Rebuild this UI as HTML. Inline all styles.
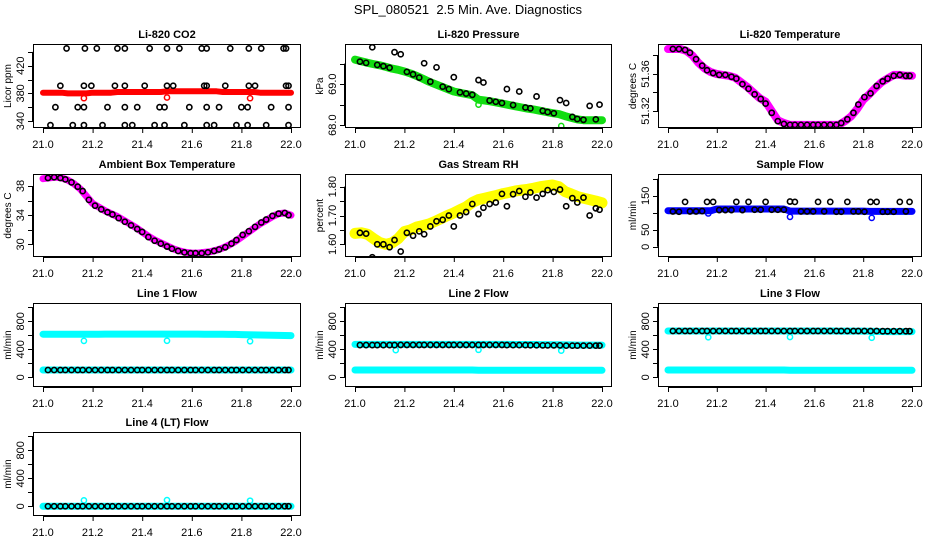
<!DOCTYPE html>
<html><head><meta charset="utf-8"><style>
html,body{margin:0;padding:0;background:#fff;}
svg{display:block;font-family:"Liberation Sans",Arial,sans-serif;}
</style></head><body>
<svg id="chart" width="936" height="540" viewBox="0 0 936 540" xmlns="http://www.w3.org/2000/svg">
<rect width="936" height="540" fill="#fff"/>
<text x="468" y="14" text-anchor="middle" font-size="13">SPL_080521&#160; 2.5 Min. Ave. Diagnostics</text>
</svg>
<script>
// ---------- shared data ----------
const bandHours = [21.000,21.025,21.050,21.075,21.100,21.125,21.150,21.175,21.200,21.225,21.250,21.275,21.300,21.325,21.350,21.375,21.400,21.425,21.450,21.475,21.500,21.525,21.550,21.575,21.600,21.625,21.650,21.675,21.700,21.725,21.750,21.775,21.800,21.825,21.850,21.875,21.900,21.925,21.950,21.975,22.000];
const blackHours = [21.02,21.045,21.07,21.09,21.115,21.14,21.16,21.185,21.21,21.235,21.26,21.28,21.305,21.33,21.355,21.38,21.40,21.425,21.45,21.475,21.50,21.52,21.545,21.57,21.595,21.615,21.64,21.665,21.69,21.71,21.735,21.76,21.78,21.805,21.83,21.855,21.88,21.90,21.925,21.95,21.975,21.99];
const outlierHours = [21.165,21.50,21.835];
const xTicks = [21.0,21.2,21.4,21.6,21.8,22.0];
const xTickLabels = ["21.0","21.2","21.4","21.6","21.8","22.0"];

// Li-820 CO2
const co2Band = [381,381,381,381,380,380,380,380,381,381,381,381,382,382,382,382,382,382,382,382,383,383,383,383,383,383,383,383,383,382,382,382,382,382,382,381,381,381,381,381,381];
const co2Outliers = [373,374,373];
const co2BlackX = [21.095,21.169,21.217,21.30,21.33,21.43,21.50,21.55,21.64,21.66,21.755,21.83,21.88,21.97,21.98,
 21.07,21.165,21.195,21.29,21.33,21.41,21.50,21.525,21.65,21.66,21.735,21.83,21.855,21.98,21.99,
 21.05,21.14,21.165,21.26,21.33,21.38,21.47,21.49,21.59,21.66,21.71,21.80,21.825,21.92,21.99,
 21.03,21.12,21.165,21.24,21.33,21.36,21.45,21.49,21.57,21.66,21.69,21.78,21.825,21.90,21.99];
const co2BlackY = [445,445,445,445,445,445,445,445,445,445,445,445,445,445,445,
 391,391,391,391,391,391,391,391,391,391,391,391,391,391,391,
 360,360,360,360,360,360,360,360,360,360,360,360,360,360,360,
 334,334,334,334,334,334,334,334,334,334,334,334,334,334,334];

// Li-820 Pressure
const presBand = [69.60,69.56,69.52,69.49,69.46,69.42,69.38,69.35,69.31,69.26,69.20,69.13,69.06,69.00,68.94,68.88,68.82,68.79,68.76,68.73,68.62,68.60,68.58,68.55,68.52,68.49,68.46,68.43,68.40,68.38,68.35,68.32,68.29,68.27,68.22,68.18,68.14,68.12,68.12,68.12,68.12];
const presOutliers = [69.35,68.50,67.98];
const presBlack = [69.55,69.52,69.90,69.47,69.44,69.40,69.78,69.73,69.30,69.24,69.16,69.51,69.06,69.41,68.94,68.88,69.17,68.80,68.77,68.74,69.10,69.04,68.60,68.57,68.54,68.88,68.49,68.82,68.43,68.41,68.70,68.35,68.32,68.29,68.61,68.54,68.20,68.15,68.13,68.47,68.14,68.50];

// Li-820 Temperature
const tempBand = [51.387,51.387,51.387,51.385,51.380,51.372,51.366,51.362,51.360,51.359,51.358,51.356,51.351,51.346,51.340,51.334,51.330,51.320,51.310,51.307,51.305,51.305,51.305,51.305,51.305,51.305,51.305,51.305,51.305,51.309,51.314,51.322,51.332,51.338,51.345,51.351,51.355,51.359,51.359,51.358,51.358];
const tempBlack = [51.387,51.387,51.386,51.383,51.376,51.369,51.364,51.361,51.359,51.359,51.357,51.355,51.349,51.344,51.338,51.333,51.328,51.318,51.309,51.306,51.305,51.305,51.305,51.305,51.305,51.305,51.305,51.305,51.305,51.307,51.311,51.318,51.327,51.335,51.339,51.347,51.352,51.355,51.358,51.359,51.358,51.358];

// Ambient box temperature
const ambBand = [39.0,39.1,39.2,39.1,38.8,38.3,37.6,36.6,35.6,35.1,34.6,34.2,33.8,33.3,32.8,32.3,31.7,31.1,30.6,30.2,29.8,29.4,29.1,28.9,28.8,28.8,28.9,29.0,29.2,29.5,29.9,30.4,31.0,31.6,32.2,32.8,33.3,33.8,34.2,34.3,34.0];
const ambBlack = [39.1,39.2,39.1,38.9,38.5,37.9,37.3,36.1,35.3,34.8,34.4,34.1,33.6,33.1,32.6,32.1,31.7,31.0,30.5,30.1,29.7,29.4,29.1,28.9,28.8,28.8,28.8,28.9,29.1,29.3,29.6,30.1,30.6,31.3,31.8,32.4,33.0,33.4,33.9,34.2,34.3,34.0];

// Gas stream RH
const rhBand = [1.638,1.640,1.635,1.620,1.606,1.600,1.605,1.620,1.644,1.650,1.660,1.665,1.671,1.680,1.690,1.700,1.709,1.720,1.730,1.745,1.755,1.760,1.765,1.770,1.776,1.780,1.785,1.788,1.791,1.795,1.800,1.803,1.806,1.800,1.783,1.775,1.766,1.760,1.755,1.750,1.744];
const rhBlack = [1.640,1.637,1.555,1.600,1.600,1.590,1.615,1.575,1.640,1.630,1.645,1.635,1.662,1.680,1.685,1.700,1.662,1.700,1.712,1.740,1.705,1.727,1.740,1.745,1.775,1.732,1.774,1.785,1.765,1.780,1.762,1.775,1.788,1.782,1.790,1.732,1.760,1.745,1.762,1.700,1.725,1.720];

// Sample flow
const sampBand = [106,106,106,106,106,106,106,106,111,111,111,111,111,111,111,111,111,111,111,111,105,105,105,105,105,105,105,105,105,105,105,105,105,104,104,104,104,104,104,104,104];
const sampOutliers = [98,88,85];
const sampBlack = [104,103,132,104,104,105,132,132,108,108,108,132,108,132,109,109,132,109,109,109,133,132,104,104,104,132,104,132,103,103,132,104,104,103,132,132,103,103,103,132,104,132];

// Line flows
const l1Upper = [615,615,614,614,614,614,614,615,615,615,616,616,616,616,616,616,616,616,617,617,617,617,616,616,616,616,615,615,614,614,613,612,610,608,606,604,602,600,598,597,596];
const l1Lower = [104,104,104,104,104,104,104,104,104,104,104,104,104,104,104,104,104,104,104,104,104,104,104,104,104,104,104,104,104,104,104,104,104,104,104,104,104,104,104,104,104];
const l1Outliers = [520,522,515];
const l1Black = [104,104,104,104,104,104,104,104,104,104,104,104,104,104,104,104,104,104,104,104,104,104,104,104,104,104,104,104,104,104,104,104,104,104,104,104,104,104,104,104,104,104];

const l2Upper = [470,470,470,470,470,470,470,470,470,470,470,470,470,470,470,470,470,470,470,470,470,470,470,470,470,470,468,468,468,468,466,466,464,464,462,462,460,460,460,460,460];
const l2Lower = [104,104,104,104,104,104,104,104,104,104,104,104,104,104,104,104,104,104,104,104,100,100,100,100,100,100,100,100,100,100,100,100,100,100,100,100,100,100,100,100,100];
const l2Outliers = [388,392,380];
const l2Black = [460,460,460,460,460,460,460,462,462,462,462,462,462,462,462,462,462,462,462,462,462,462,462,462,462,460,460,460,460,458,458,456,456,456,456,452,452,452,452,452,452,452];

const l3Upper = [661,661,661,661,661,661,661,661,661,661,661,661,661,661,661,661,661,661,661,661,661,661,661,661,661,661,661,661,660,660,660,660,660,658,656,654,652,652,652,652,652];
const l3Lower = [104,104,104,104,104,104,104,104,104,104,104,104,104,104,104,104,104,104,104,104,100,100,100,100,100,100,100,100,100,100,100,100,100,100,100,100,100,100,100,100,100];
const l3Outliers = [571,575,565];
const l3Black = [661,661,661,661,661,661,661,661,661,661,661,661,661,661,661,661,661,661,661,661,661,661,661,661,661,661,661,661,661,661,661,661,661,661,661,661,658,658,658,658,658,658];

const l4Band = [0,0,0,0,0,0,0,0,0,0,0,0,0,0,0,0,0,0,0,0,0,0,0,0,0,0,0,0,0,0,0,0,0,0,0,0,0,0,0,0,0];
const l4Outliers = [85,88,80];
const l4Black = [0,0,0,0,0,0,0,0,0,0,0,0,0,0,0,0,0,0,0,0,0,0,0,0,0,0,0,0,0,0,0,0,0,0,0,0,0,0,0,0,0,0];

// ---------- drawing ----------
const svg = document.getElementById('chart');
const NS = 'http://www.w3.org/2000/svg';
function mk(tag, attrs, parent){
  const e = document.createElementNS(NS, tag);
  for (const k in attrs) e.setAttribute(k, attrs[k]);
  (parent || svg).appendChild(e);
  return e;
}
const colX = [[33,301],[345,612],[658,922]];
const rowY = [[44,128],[174,257],[303,387],[432,516]];
const flowTicks = [0,200,400,600,800,1000];
const flowLabels = ["0","","400","","800",""];

function panel(p){
  const [L,R] = colX[p.col], [T,B] = rowY[p.row];
  const g = mk('g', {});
  
  
  const x0 = L + 10, x1 = R - 10;
  const xs = v => x0 + (v - 21) * (x1 - x0);
  const ys = v => B - (v - p.ylo) / (p.yhi - p.ylo) * (B - T);
  const clipId = 'clip-' + p.name;
  const cp = mk('clipPath', {id: clipId}, g);
  mk('rect', {x: L, y: T, width: R - L, height: B - T}, cp);
  const plot = mk('g', {'clip-path': 'url(#' + clipId + ')'}, g);
  
  
  (p.bands || []).forEach((band, bi) => {
    const pts = bandHours.map((h, i) => xs(h).toFixed(1) + ',' + ys(band[i]).toFixed(1)).join(' ');
    const pl = mk('polyline', {points: pts, fill: 'none', stroke: p.color, 'stroke-width': p.bw, 'stroke-linejoin': 'round', 'stroke-linecap': 'round'}, plot);
    
    
  });
  (p.outliers || []).forEach((v, i) => {
    const c = mk('circle', {cx: xs(outlierHours[i]), cy: ys(v), r: 2.6, fill: 'none', stroke: p.color, 'stroke-width': 1.5}, plot);
    
    
  });
  const bx = p.blackX || blackHours;
  (p.black || []).forEach((v, i) => {
    const c = mk('circle', {cx: xs(bx[i]), cy: ys(v), r: 2.6, fill: 'none', stroke: '#000', 'stroke-width': 1.6}, plot);
    
    
  });
  const box = mk('rect', {x: L + 0.5, y: T + 0.5, width: R - L - 1, height: B - T - 1, fill: 'none', stroke: '#000', 'stroke-width': 1}, g);
  
  
  const xa = mk('g', {}, g);
  
  
  mk('line', {x1: xs(21), x2: xs(22), y1: B + 0.5, y2: B + 0.5, stroke: '#000'}, xa);
  xTicks.forEach((t, i) => {
    mk('line', {x1: xs(t) + 0.5, x2: xs(t) + 0.5, y1: B, y2: B + 5, stroke: '#000'}, xa);
    const tx = mk('text', {x: xs(t), y: B + 20, 'text-anchor': 'middle', 'font-size': 11}, xa);
    tx.textContent = xTickLabels[i];
  });
  const ya = mk('g', {}, g);
  
  
  const inT = p.yticks.filter(t => t >= p.ylo && t <= p.yhi);
  mk('line', {x1: L - 0.5, x2: L - 0.5, y1: ys(inT[0]), y2: ys(inT[inT.length - 1]), stroke: '#000'}, ya);
  p.yticks.forEach((t, i) => {
    if (t < p.ylo || t > p.yhi) return;
    const y = Math.round(ys(t)) + 0.5;
    mk('line', {x1: L - 5, x2: L, y1: y, y2: y, stroke: '#000'}, ya);
    if (p.ylabels[i]) {
      const tx = mk('text', {x: L - 9, y: ys(t), 'text-anchor': 'middle', 'font-size': 11, transform: 'rotate(-90 ' + (L - 9) + ' ' + ys(t) + ')'}, ya);
      tx.textContent = p.ylabels[i];
    }
  });
  const yt = mk('text', {x: L - 22, y: (T + B) / 2, 'text-anchor': 'middle', 'font-size': 10, transform: 'rotate(-90 ' + (L - 22) + ' ' + (T + B) / 2 + ')'}, g);
  
  
  yt.textContent = p.ytitle;
  const tt = mk('text', {x: (L + R) / 2, y: T - 6, 'text-anchor': 'middle', 'font-size': 11, 'font-weight': 'bold'}, g);
  
  
  tt.textContent = p.title;
}

panel({name:'co2', title:'Li-820 CO2', ytitle:'Licor ppm', col:0, row:0, ylo:329.9, yhi:451.4,
  yticks:[340,360,380,400,420,440], ylabels:["340","","380","","420",""],
  bands:[co2Band], color:'#ff0000', bw:6, outliers:co2Outliers, black:co2BlackY, blackX:co2BlackX});
panel({name:'pressure', title:'Li-820 Pressure', ytitle:'kPa', col:1, row:0, ylo:67.93, yhi:69.98,
  yticks:[68.0,68.5,69.0,69.5], ylabels:["68.0","","69.0",""],
  bands:[presBand], color:'#11dd11', bw:8, outliers:presOutliers, black:presBlack});
panel({name:'li820-temp', title:'Li-820 Temperature', ytitle:'degrees C', col:2, row:0, ylo:51.3016, yhi:51.3924,
  yticks:[51.30,51.32,51.34,51.36,51.38], ylabels:["","51.32","","51.36",""],
  bands:[tempBand], color:'#ff00ff', bw:8, black:tempBlack});
panel({name:'ambient-temp', title:'Ambient Box Temperature', ytitle:'degrees C', col:0, row:1, ylo:28.27, yhi:39.64,
  yticks:[30,32,34,36,38], ylabels:["30","","34","","38"],
  bands:[ambBand], color:'#ff00ff', bw:7, black:ambBlack});
panel({name:'gas-rh', title:'Gas Stream RH', ytitle:'percent', col:1, row:1, ylo:1.556, yhi:1.844,
  yticks:[1.60,1.65,1.70,1.75,1.80], ylabels:["1.60","","1.70","","1.80"],
  bands:[rhBand], color:'#ffff00', bw:11, black:rhBlack});
panel({name:'sample-flow', title:'Sample Flow', ytitle:'ml/min', col:2, row:1, ylo:-30, yhi:214,
  yticks:[0,50,100,150,200], ylabels:["0","50","","150",""],
  bands:[sampBand], color:'#0000ff', bw:7, outliers:sampOutliers, black:sampBlack});
panel({name:'line1-flow', title:'Line 1 Flow', ytitle:'ml/min', col:0, row:2, ylo:-139, yhi:1061,
  yticks:flowTicks, ylabels:flowLabels, bands:[l1Upper, l1Lower], color:'#00ffff', bw:7, outliers:l1Outliers, black:l1Black});
panel({name:'line2-flow', title:'Line 2 Flow', ytitle:'ml/min', col:1, row:2, ylo:-139, yhi:1061,
  yticks:flowTicks, ylabels:flowLabels, bands:[l2Upper, l2Lower], color:'#00ffff', bw:7, outliers:l2Outliers, black:l2Black});
panel({name:'line3-flow', title:'Line 3 Flow', ytitle:'ml/min', col:2, row:2, ylo:-139, yhi:1061,
  yticks:flowTicks, ylabels:flowLabels, bands:[l3Upper, l3Lower], color:'#00ffff', bw:7, outliers:l3Outliers, black:l3Black});
panel({name:'line4-flow', title:'Line 4 (LT) Flow', ytitle:'ml/min', col:0, row:3, ylo:-139, yhi:1061,
  yticks:flowTicks, ylabels:flowLabels, bands:[l4Band], color:'#00ffff', bw:7, outliers:l4Outliers, black:l4Black});
</script>
</body></html>
